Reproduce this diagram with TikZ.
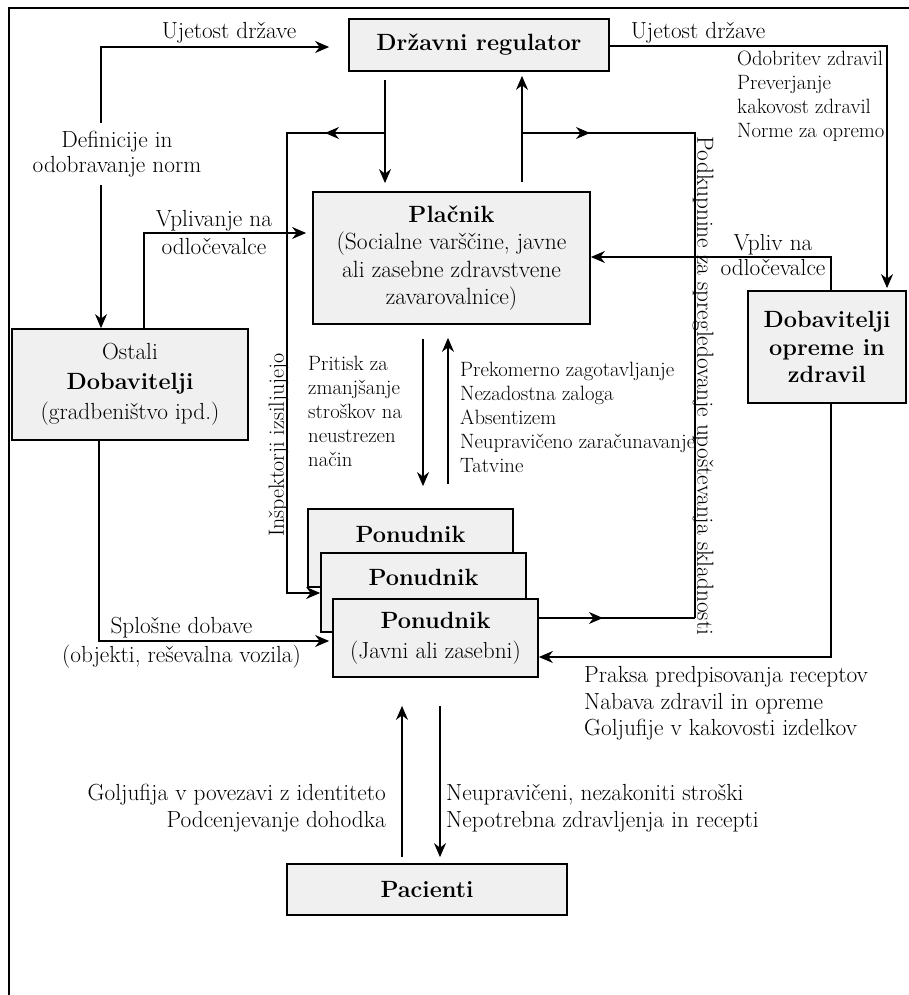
\documentclass[tikz,border=0pt]{standalone}
\usetikzlibrary{arrows.meta,decorations.markings}
\definecolor{boxgray}{RGB}{240,240,240}
\newcommand{\fmain}{\fontsize{23.3}{25.5}\selectfont}
\newcommand{\fsmall}{\fontsize{20.7}{24}\selectfont}
\newcommand{\fbold}{\fontsize{23.5}{28}\selectfont\bfseries}
\tikzset{
  >={Stealth[length=14pt,width=12pt]},
  box/.style={draw, line width=1.8pt, fill=boxgray, inner sep=0pt, align=center, font=\fbold},
  conn/.style={line width=1.2pt},
  arr/.style={conn, ->},
  lbl/.style={font=\fmain, inner sep=0pt, align=center},
  smalltext/.style={font=\fsmall, inner sep=0pt, align=left, anchor=west},
  midarrow/.style={postaction={decorate}, decoration={markings, mark=at position #1 with {\arrow{>}}}},
}
\begin{document}
\begin{tikzpicture}[x=1pt,y=-1pt]
\useasboundingbox (0,0) rectangle (908,995);
% frame
\draw[line width=2pt] (9,1000) -- (9,8) -- (915,8);

% boxes
\node[box, minimum width=260pt, minimum height=52pt] (R) at (479,45) {Državni regulator};
\node[box, minimum width=277pt, minimum height=132pt, font={\fontsize{23.5}{27.5}\selectfont}] (P) at (451.5,258)
  {{\fbold Plačnik}\\(Socialne varščine, javne\\ali zasebne zdravstvene\\zavarovalnice)};
\node[box, minimum width=236pt, minimum height=111pt, font={\fontsize{23.3}{30}\selectfont}] (O) at (130,384.5)
  {Ostali\\{\fbold Dobavitelji}\\(gradbeništvo ipd.)};
\node[box, minimum width=158pt, minimum height=112pt, font={\fontsize{23.5}{27.5}\selectfont\bfseries}] (D) at (827,347)
  {Dobavitelji\\opreme in\\zdravil};
\node[box, minimum width=205pt, minimum height=78pt] (P1) at (410.5,548) {};
\node[font=\fbold, inner sep=0pt] (P1t) at ([yshift=-26pt]P1.north) {Ponudnik};
\node[box, minimum width=205pt, minimum height=79pt] (P2) at (423.5,592.5) {};
\node[font=\fbold, inner sep=0pt] (P2t) at ([yshift=-25pt]P2.north) {Ponudnik};
\node[box, minimum width=205pt, minimum height=78pt, font={\fontsize{23.5}{30}\selectfont\bfseries}] (P3) at (435.5,638)
  {Ponudnik\\{\fmain\mdseries (Javni ali zasebni)}};
\node[box, minimum width=280pt, minimum height=51pt] (Pa) at (427,889.5) {Pacienti};

% Ujetost drzave (left) / Definicije
\draw[conn, <->, shorten >=19pt] (101,0 |- O.north) -- (101,47) -- (R.west |- 0,47);
\node[lbl, fill=white, inner ysep=8pt, inner xsep=2pt] (def) at (117,154) {Definicije in\\odobravanje norm};
\node[lbl] (uj1) at (229,33) {Ujetost države};

% regulator -> placnik
\draw[arr, shorten <=8pt, shorten >=8pt] (385,0 |- R.south) -- (385,0 |- P.north);
% branch left: inspektorji
\coordinate (bl) at (385,133);
\draw[conn, midarrow=60pt, ->] (bl) -- (287,133) -- (287,593) -- (P2.west |- 0,593);
\node[lbl, rotate=90, font={\fontsize{22}{25}\selectfont}] (insp) at (278.5,445) {Inšpektorji izsiljujejo};

% placnik -> regulator
\draw[arr, shorten <=9pt, shorten >=4pt] (522,0 |- P.north) -- (522,0 |- R.south);
% branch right: podkupnine
\coordinate (br) at (522,133);
\draw[conn, midarrow=68pt] (br) -- (695,133) -- (695,618);
\draw[conn, midarrow=64pt] (P3.east |- 0,618) -- (695,618);
\node[lbl, rotate=-90] (podk) at (703,386) {Podkupnine za spregledovanje upoštevanja skladnosti};

% regulator -> dobavitelji opreme
\draw[arr, shorten >=2pt] (R.east |- 0,46) -- (887,46) -- (887,0 |- D.north);
\node[lbl] (uj2) at (698,33) {Ujetost države};
\node[smalltext] (odob) at (737,96) {Odobritev zdravil\\Preverjanje\\kakovost zdravil\\Norme za opremo};

% dobavitelji opreme -> placnik
\draw[arr] (831,0 |- D.north) -- (831,257) -- (P.east |- 0,257);
\node[lbl] (vpl1) at (773,255) {Vpliv na\\odločevalce};

% ostali -> placnik
\draw[arr, shorten >=6pt] (144,0 |- O.north) -- (144,233) -- (P.west |- 0,233);
\node[lbl, font={\fontsize{23.3}{28}\selectfont}] (vpl2) at (214,233) {Vplivanje na\\odločevalce};

% ostali -> ponudnik
\draw[arr, shorten >=3pt] (99,0 |- O.south) -- (99,641) -- (P3.west |- 0,641);
\node[lbl, font={\fontsize{23.3}{29}\selectfont}] (splo) at (181.5,642.5) {Splošne dobave\\(objekti, reševalna vozila)};

% dobavitelji opreme -> ponudnik
\draw[arr] (831,0 |- D.south) -- (831,657) -- (P3.east |- 0,657);
\node[lbl, align=left, anchor=west, font={\fontsize{23.3}{26.5}\selectfont}] (praksa) at (584,703.5)
  {Praksa predpisovanja receptov\\Nabava zdravil in opreme\\Goljufije v kakovosti izdelkov};

% placnik <-> ponudnik
\draw[arr, shorten <=14pt, shorten >=22pt] (423,0 |- P.south) -- (423,0 |- P1.north);
\draw[arr, shorten <=24pt, shorten >=13pt] (448,0 |- P1.north) -- (448,0 |- P.south);
\node[smalltext] (prit) at (308,411.5) {Pritisk za\\zmanjšanje\\stroškov na\\neustrezen\\način};
\node[smalltext] (prek) at (460,417.5) {Prekomerno zagotavljanje\\Nezadostna zaloga\\Absentizem\\Neupravičeno zaračunavanje\\Tatvine};

% pacienti <-> ponudnik
\draw[arr, shorten <=6pt, shorten >=28pt] (402,0 |- Pa.north) -- (402,0 |- P3.south);
\draw[arr, shorten <=28pt, shorten >=6pt] (440,0 |- P3.south) -- (440,0 |- Pa.north);
\node[lbl, align=right, anchor=east, font={\fontsize{23.3}{27}\selectfont}] (golj) at (386,808.5)
  {Goljufija v povezavi z identiteto\\Podcenjevanje dohodka};
\node[lbl, align=left, anchor=west, font={\fontsize{23.3}{27}\selectfont}] (neup) at (446,808.5)
  {Neupravičeni, nezakoniti stroški\\Nepotrebna zdravljenja in recepti};
\end{tikzpicture}
\end{document}
